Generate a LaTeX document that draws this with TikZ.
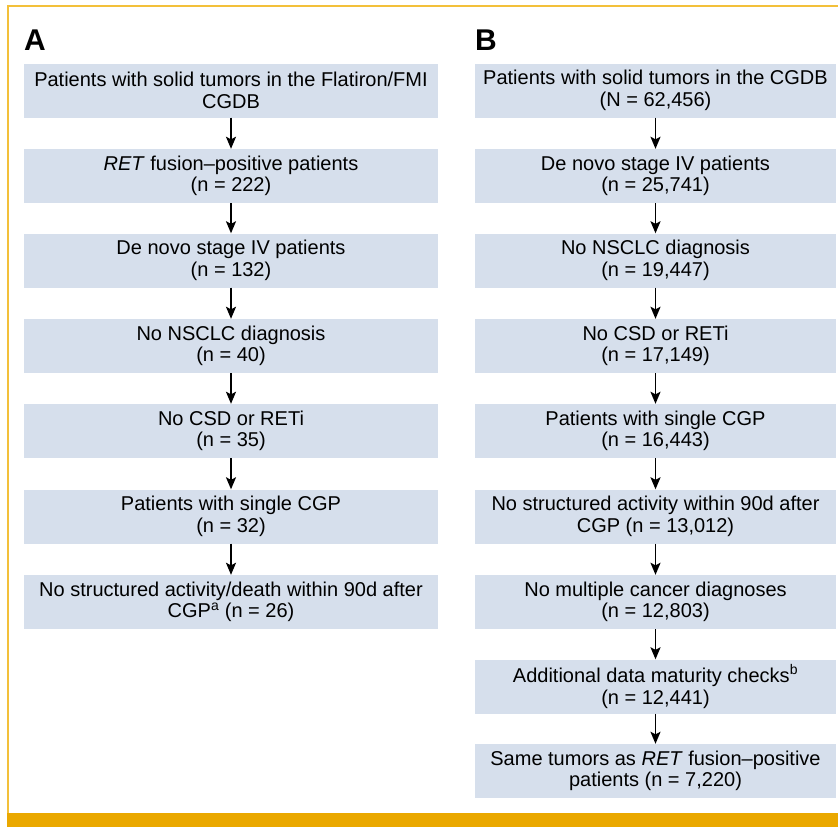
\documentclass[tikz,border=0pt]{standalone}
\usepackage{fontspec}
\setmainfont{Liberation Sans}
\usetikzlibrary{arrows.meta}
\definecolor{boxfill}{HTML}{D6DFEC}
\definecolor{framey}{HTML}{F3C03A}
\definecolor{bandy}{HTML}{EAA800}
\tikzset{
  flowbox/.style={fill=boxfill, inner sep=0pt, minimum height=54pt, align=center,
    font=\fontsize{20}{21.5}\selectfont},
  boxA/.style={flowbox, minimum width=414pt},
  boxB/.style={flowbox, minimum width=361pt},
  arr/.style={line width=1.6pt, -{Stealth[length=12pt,width=10pt,inset=2.5pt]}},
  panel/.style={font=\fontsize{30}{30}\selectfont\bfseries, anchor=base west, inner sep=0pt}
}
\begin{document}
\begin{tikzpicture}[x=1pt,y=-1pt]
\useasboundingbox (0,0) rectangle (838,827);
\fill[white] (0,0) rectangle (838,827);
% frame
\draw[framey, line width=2pt] (8,814) -- (8,6) -- (838,6);
\fill[bandy] (7,813) rectangle (838,827);
% panel labels
\node[panel] (lA) at (24,50) {A};
\node[panel] (lB) at (475,50) {B};
% panel A
\node[boxA] (a1) at (231,90.5) {Patients with solid tumors in the Flatiron/FMI\\CGDB};
\node[boxA] (a2) at (231,176) {\textit{RET} fusion--positive patients\\(n = 222)};
\node[boxA] (a3) at (231,260.5) {De novo stage IV patients\\(n = 132)};
\node[boxA] (a4) at (231,346) {No NSCLC diagnosis\\(n = 40)};
\node[boxA] (a5) at (231,431) {No CSD or RETi\\(n = 35)};
\node[boxA] (a6) at (231,516.5) {Patients with single CGP\\(n = 32)};
\node[boxA] (a7) at (231,602) {No structured activity/death within 90d after\\CGP\textsuperscript{a} (n = 26)};
\foreach \i/\j in {a1/a2,a2/a3,a3/a4,a4/a5,a5/a6,a6/a7}
  \draw[arr] (\i.south) -- (\j.north);
% panel B
\node[boxB] (b1) at (655.5,90.5) {Patients with solid tumors in the CGDB\\(N = 62,456)};
\node[boxB] (b2) at (655.5,176) {De novo stage IV patients\\(n = 25,741)};
\node[boxB] (b3) at (655.5,260.5) {No NSCLC diagnosis\\(n = 19,447)};
\node[boxB] (b4) at (655.5,346) {No CSD or RETi\\(n = 17,149)};
\node[boxB] (b5) at (655.5,431) {Patients with single CGP\\(n = 16,443)};
\node[boxB] (b6) at (655.5,516.5) {No structured activity within 90d after\\CGP (n = 13,012)};
\node[boxB] (b7) at (655.5,602) {No multiple cancer diagnoses\\(n = 12,803)};
\node[boxB] (b8) at (655.5,686.5) {Additional data maturity checks\textsuperscript{b}\\(n = 12,441)};
\node[boxB] (b9) at (655.5,771) {Same tumors as \textit{RET} fusion--positive\\patients (n = 7,220)};
\foreach \i/\j in {b1/b2,b2/b3,b3/b4,b4/b5,b5/b6,b6/b7,b7/b8,b8/b9}
  \draw[arr] (\i.south) -- (\j.north);
\end{tikzpicture}
\end{document}
